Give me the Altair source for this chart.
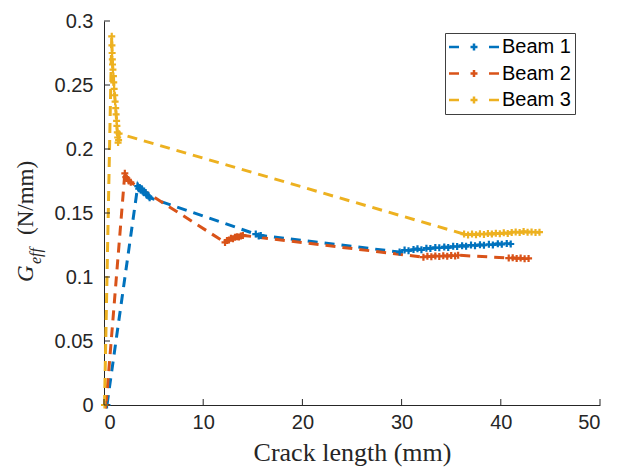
import altair as alt
import pandas as pd

# ---------------- data ----------------
BEAM1_X = [0.3, 3.4, 3.5, 3.6, 3.7, 3.8, 3.9, 4.0, 4.2, 4.3, 4.5, 4.6,
           15.3, 15.6, 15.8,
           29.8, 30.3, 30.7, 31.2, 31.6, 32.0, 32.5, 32.9, 33.4, 33.8, 34.3, 34.7,
           35.2, 35.6, 36.1, 36.5, 37.0, 37.4, 37.9, 38.3, 38.8, 39.2, 39.7, 40.1,
           40.6, 41.0]
BEAM1_Y = [0.0, 0.171, 0.169, 0.170, 0.168, 0.169, 0.167, 0.166, 0.166, 0.164, 0.163, 0.162,
           0.1335, 0.132, 0.1325,
           0.1195, 0.121, 0.1205, 0.1215, 0.122, 0.1212, 0.1225, 0.1222, 0.123, 0.1228, 0.1235, 0.123,
           0.124, 0.1238, 0.1245, 0.124, 0.125, 0.1245, 0.1252, 0.1248, 0.1255, 0.125, 0.126, 0.1255,
           0.1262, 0.1258]

BEAM2_X = [0.2, 2.1, 2.2, 2.3, 2.5, 2.7,
           12.2, 12.4, 12.6, 12.8, 13.0, 13.2, 13.4, 13.6, 13.8, 14.0,
           32.2, 32.6, 33.0, 33.4, 33.8, 34.2, 34.6, 35.0, 35.4, 35.7,
           40.8, 41.2, 41.6, 42.0, 42.4, 42.8]
BEAM2_Y = [0.0, 0.181, 0.178, 0.177, 0.175, 0.174,
           0.127, 0.1285, 0.129, 0.1302, 0.1298, 0.131, 0.1315, 0.1312, 0.132, 0.1325,
           0.1155, 0.1162, 0.1158, 0.1165, 0.116, 0.1166, 0.1162, 0.1168, 0.1165, 0.117,
           0.1148, 0.115, 0.1145, 0.1148, 0.1142, 0.1145]

BEAM3_X = [0.05, 0.78, 0.80, 0.82, 0.84, 0.86, 0.90, 0.95, 0.98, 1.02, 1.08, 1.12, 1.18,
           1.22, 1.27, 1.30, 1.34, 1.38, 1.42, 1.47, 1.52,
           36.3, 36.7, 37.1, 37.5, 37.9, 38.3, 38.7, 39.1, 39.5, 39.9, 40.3, 40.7,
           41.1, 41.5, 41.9, 42.3, 42.7, 43.1, 43.5, 43.9]
BEAM3_Y = [0.0, 0.288, 0.281, 0.275, 0.270, 0.266, 0.262, 0.257, 0.252, 0.247, 0.242, 0.237, 0.232,
           0.227, 0.222, 0.218, 0.213, 0.209, 0.205, 0.207, 0.212,
           0.1335, 0.1328, 0.1335, 0.133, 0.1338, 0.1332, 0.134, 0.1335, 0.1342, 0.1337, 0.1345, 0.134,
           0.1348, 0.1352, 0.1347, 0.1355, 0.135, 0.1352, 0.1348, 0.135]

SERIES = ["Beam 1", "Beam 2", "Beam 3"]
COLORS = ["#0072BD", "#D95319", "#EDB120"]
X_TICKS = [0, 10, 20, 30, 40, 50]
Y_TICKS = [0, 0.05, 0.1, 0.15, 0.2, 0.25, 0.3]

rows = []
for name, xs, ys in zip(SERIES, [BEAM1_X, BEAM2_X, BEAM3_X], [BEAM1_Y, BEAM2_Y, BEAM3_Y]):
    for i, (xv, yv) in enumerate(zip(xs, ys)):
        rows.append({"beam": name, "x": xv, "y": yv, "idx": i})
df = pd.DataFrame(rows)

W, H = 496, 384
AX = "#262626"

xscale = alt.Scale(domain=[0, 50], nice=False, zero=False)
yscale = alt.Scale(domain=[0, 0.3], nice=False, zero=False)
cscale = alt.Scale(domain=SERIES, range=COLORS)

x_enc = alt.X("x:Q", scale=xscale,
              axis=alt.Axis(values=X_TICKS, title="Crack length (mm)", ticks=False, grid=False,
                            domainColor=AX, labelColor=AX, labelFont="Liberation Sans",
                            labelFontSize=20, labelPadding=7, titleFont="Liberation Serif",
                            titleFontSize=26, titleFontWeight="normal", titleColor=AX,
                            titlePadding=7))
y_enc = alt.Y("y:Q", scale=yscale,
              axis=alt.Axis(values=Y_TICKS, title=None, ticks=False, grid=False, format="~g",
                            domainColor=AX, labelColor=AX, labelFont="Liberation Sans",
                            labelFontSize=20, labelPadding=11))

LEGEND_PATH = "M-2,0H0M2.3,0H3.7M3,-0.7V0.7M6,0H8"
LEGEND = alt.Legend(title=None, orient="none", legendX=341, legendY=12,
                    symbolType=LEGEND_PATH, symbolSize=100, symbolStrokeWidth=2.5,
                    symbolOpacity=1, symbolDash=[1, 0], symbolFillColor="transparent",
                    labelFont="Liberation Sans", labelFontSize=20,
                    labelColor="#000000", labelOffset=33, rowPadding=6.5,
                    padding=4, strokeColor="#404040", fillColor="white", labelLimit=0)

base = alt.Chart(df)

lines = base.mark_line(strokeDash=[10, 7], strokeWidth=3).encode(
    x=x_enc, y=y_enc,
    color=alt.Color("beam:N", scale=cscale, legend=LEGEND),
    order=alt.Order("idx:Q"),
)

points = base.mark_point(shape="M-1,0H1M0,-1V1", filled=False, size=49, strokeWidth=2.2,
                         opacity=1).encode(
    x=alt.X("x:Q", scale=xscale),
    y=alt.Y("y:Q", scale=yscale),
    color=alt.Color("beam:N", scale=cscale, legend=LEGEND),
)

ytick_df = pd.DataFrame({"y": Y_TICKS})
xtick_df = pd.DataFrame({"x": X_TICKS})
yticks = alt.Chart(ytick_df).mark_rule(color=AX, strokeWidth=1).encode(
    y=alt.Y("y:Q", scale=yscale), x=alt.value(0), x2=alt.value(6))
xticks = alt.Chart(xtick_df).mark_rule(color=AX, strokeWidth=1).encode(
    x=alt.X("x:Q", scale=xscale), y=alt.value(H), y2=alt.value(H - 6))

one = pd.DataFrame({"t": [0]})
t_g = alt.Chart(one).mark_text(text="G", font="Liberation Serif", fontStyle="italic",
                               fontSize=23, angle=270, align="left", baseline="alphabetic",
                               color=AX).encode(x=alt.value(-71), y=alt.value(261))
t_eff = alt.Chart(one).mark_text(text="eff", font="Liberation Serif", fontStyle="italic",
                                 fontSize=16, angle=270, align="left", baseline="alphabetic",
                                 color=AX).encode(x=alt.value(-63), y=alt.value(243))
t_unit = alt.Chart(one).mark_text(text="(N/mm)", font="Liberation Serif",
                                  fontSize=23, angle=270, align="left", baseline="alphabetic",
                                  color=AX).encode(x=alt.value(-71), y=alt.value(214))

chart = alt.layer(lines, points, yticks, xticks, t_g, t_eff, t_unit).properties(
    width=W, height=H,
    autosize=alt.AutoSizeParams(type="none"),
    padding={"left": 96, "top": 13, "right": 20, "bottom": 64},
).configure_view(stroke=None)

chart.save("out.html", embed_options={"renderer": "svg", "actions": False})
